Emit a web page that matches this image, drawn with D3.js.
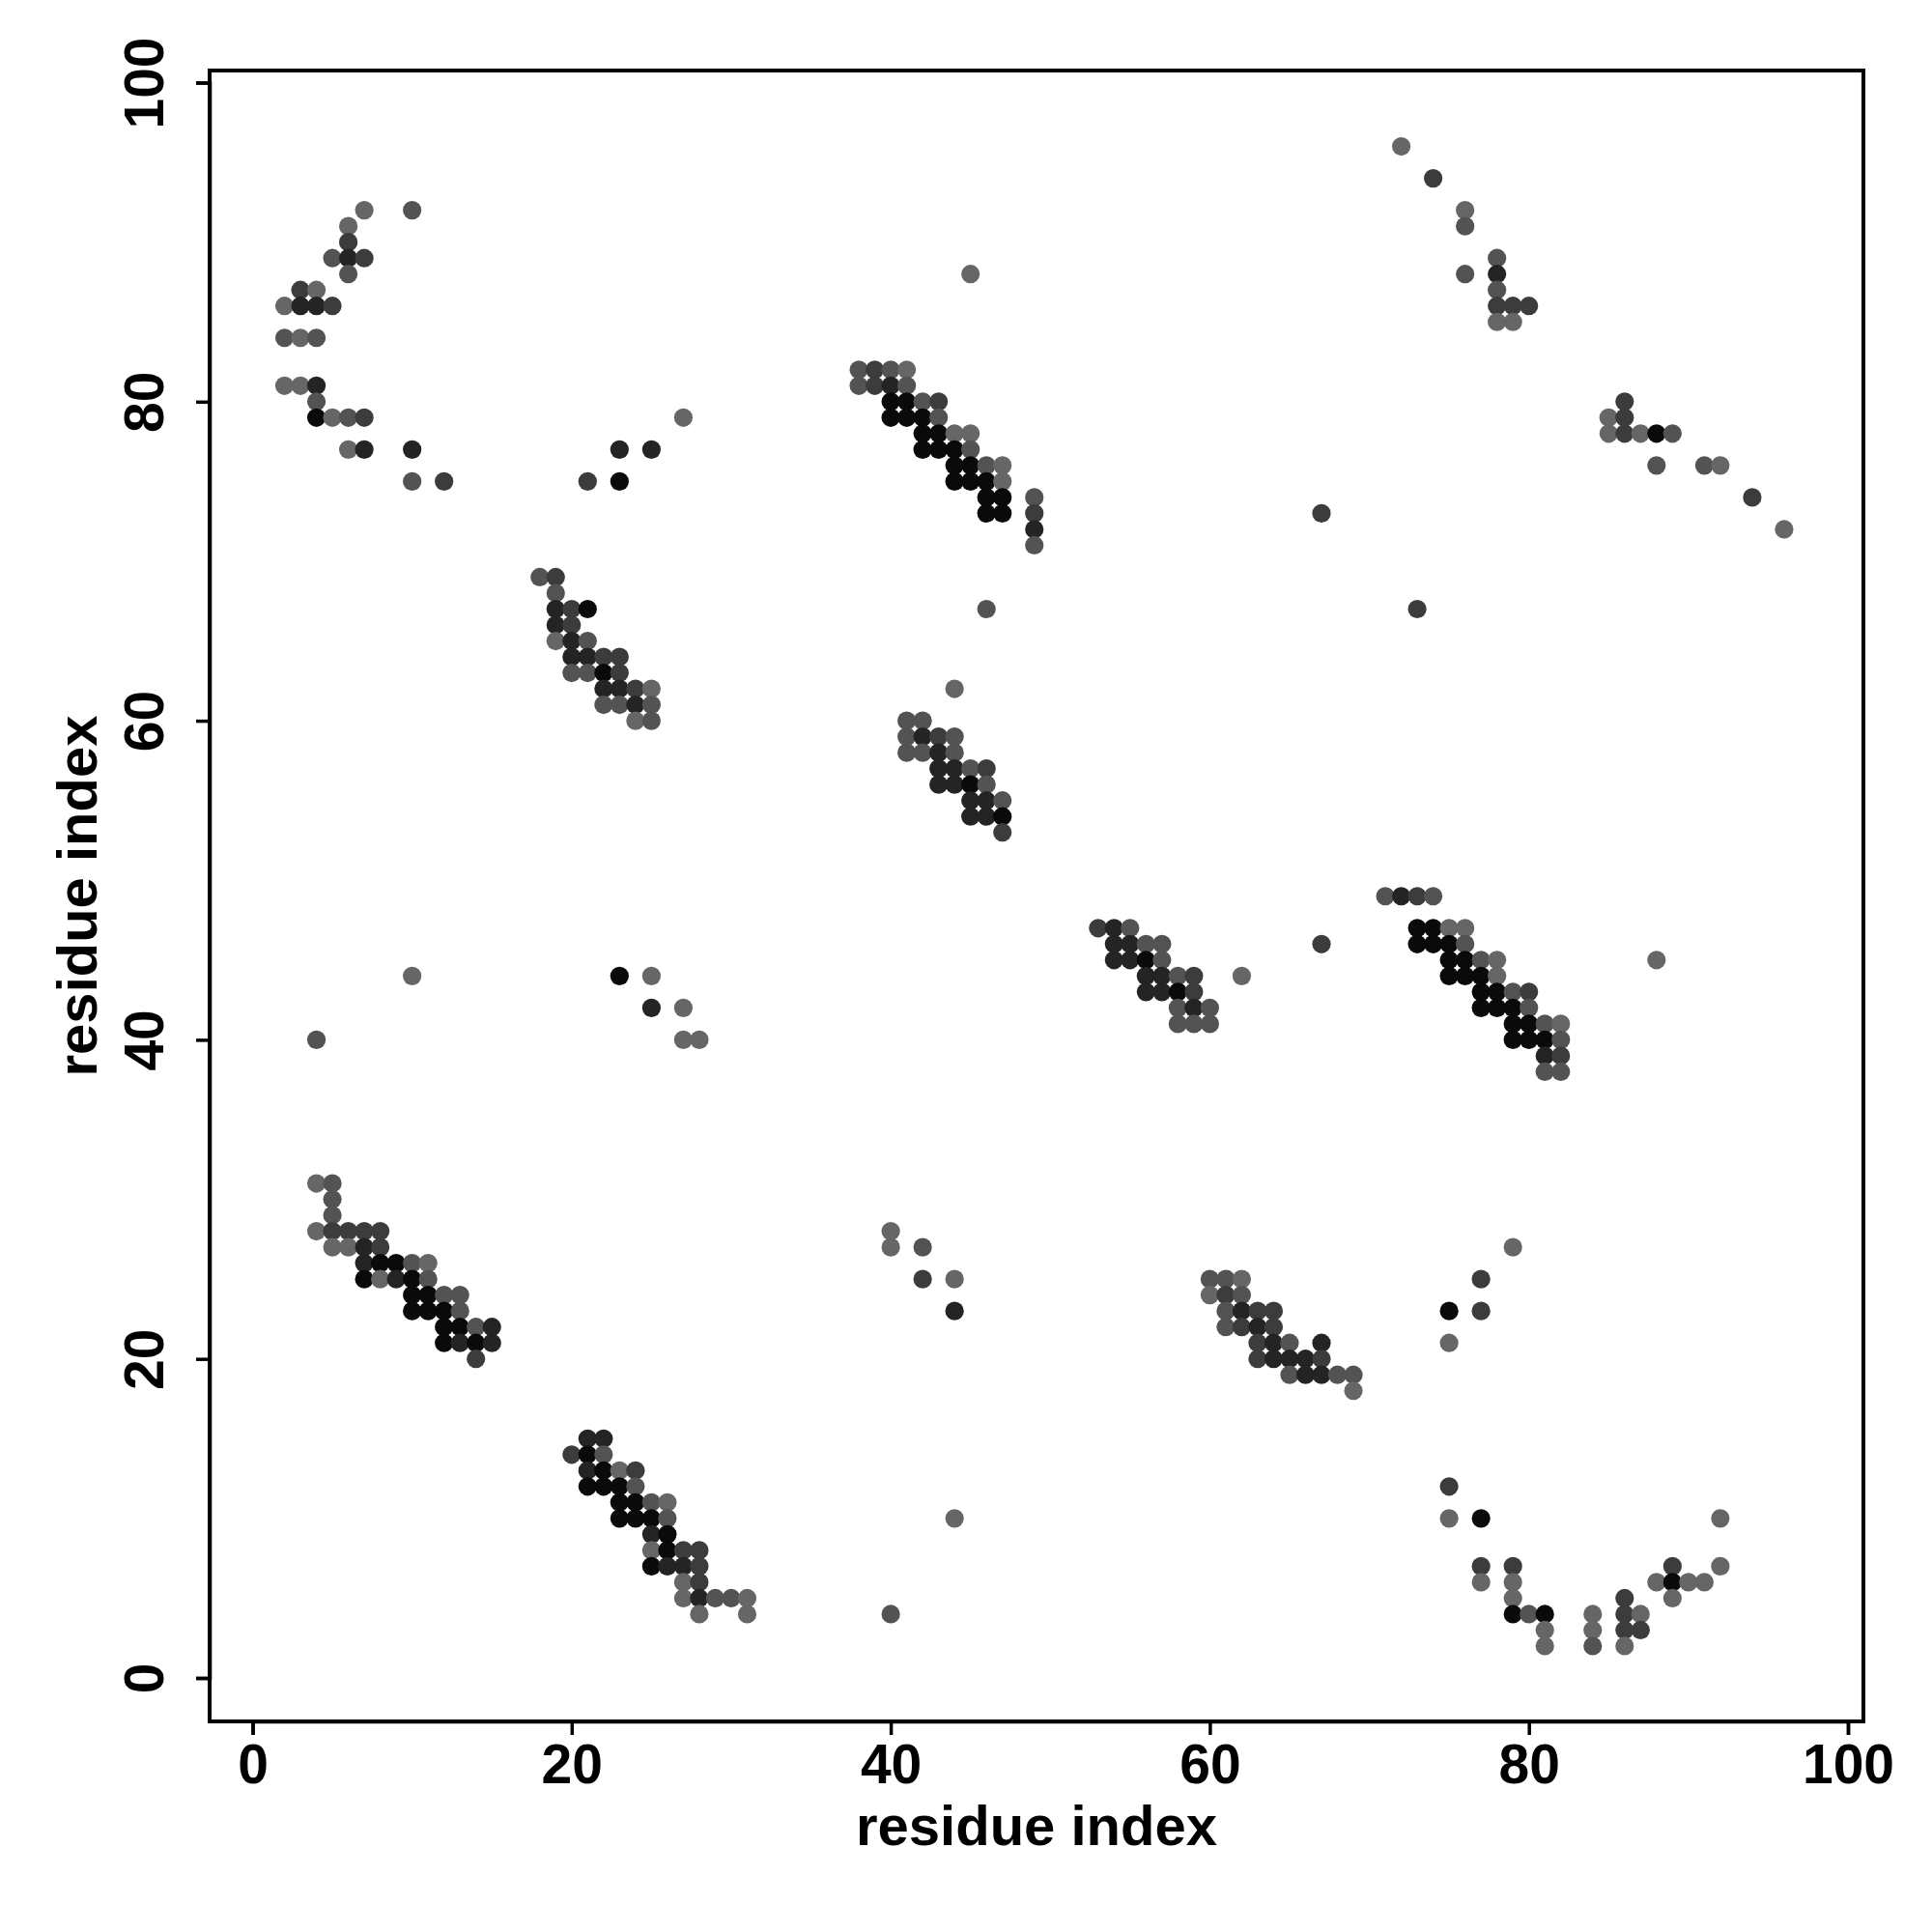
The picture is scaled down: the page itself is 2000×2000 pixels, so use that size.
<!DOCTYPE html>
<html>
<head>
<meta charset="utf-8">
<script src="https://cdn.jsdelivr.net/npm/d3@7"></script>
<style>
  body { margin: 0; background: #fff; }
  svg { display: block; }
</style>
</head>
<body>
<svg id="chart" width="2000" height="2000"></svg>
<script>
// contacts: [i, j, shade level 1 (light grey) .. 5 (black)]
const arcTopLeft = [[7,92,1],[10,92,2],[6,91,1],[6,90,3],[5,89,2],[6,89,4],[7,89,3],[6,88,2],[3,87,3],[4,87,1],
  [2,86,1],[3,86,4],[4,86,4],[5,86,3],[2,84,2],[3,84,1],[4,84,2],[2,81,1],[3,81,1],[4,81,4],[4,80,2],
  [4,79,5],[5,79,1],[6,79,2],[7,79,3],[6,77,1],[7,77,4],[10,77,4],[10,75,2],[12,75,3]];
const groupB = [[21,75,3],[23,75,5],[23,77,4],[25,77,4],[27,79,1]];
const diagC = [[45,88,1],[38,82,2],[39,82,3],[40,82,2],[41,82,1],[38,81,2],[39,81,3],[40,81,4],[41,81,2],
  [40,80,5],[41,80,5],[42,80,2],[43,80,3],[40,79,5],[41,79,5],[42,79,5],[43,79,2],[42,78,5],[43,78,5],
  [44,78,1],[45,78,1],[42,77,5],[43,77,5],[44,77,5],[45,77,2],[44,76,5],[45,76,5],[46,76,2],[47,76,1],
  [44,75,5],[45,75,5],[46,75,5],[47,75,1],[46,74,5],[47,74,5],[49,74,2],[46,73,5],[47,73,5],[49,73,3],
  [49,72,4],[49,71,2],[46,67,2]];
const groupD = [[72,96,1],[74,94,3],[76,92,1],[76,91,2],[78,89,2],[76,88,2],[78,88,4],[78,87,2],[78,86,3],
  [79,86,3],[80,86,3],[78,85,1],[79,85,1]];
const groupE = [[86,80,3],[85,79,1],[86,79,3],[85,78,1],[86,78,3],[87,78,1],[88,78,5],[89,78,2],[88,76,2],
  [91,76,2],[92,76,1],[94,74,3],[96,72,1]];
const strays = [[67,73,3],[73,67,3],[62,44,1],[67,46,3],[88,45,1],[40,4,2],[44,10,1]];
const diagF = [[18,69,2],[19,69,3],[19,68,2],[19,67,4],[20,67,3],[21,67,5],[19,66,4],[20,66,3],[19,65,1],
  [20,65,4],[21,65,2],[20,64,4],[21,64,4],[22,64,3],[23,64,3],[20,63,2],[21,63,2],[22,63,5],[23,63,3],
  [22,62,4],[23,62,4],[24,62,3],[25,62,1],[22,61,2],[23,61,2],[24,61,4],[25,61,2],[24,60,1],[25,60,2]];
const diagG = [[44,62,1],[41,60,2],[42,60,2],[41,59,2],[42,59,4],[43,59,3],[44,59,2],[41,58,2],[42,58,2],
  [43,58,4],[44,58,2],[43,57,4],[44,57,4],[45,57,2],[46,57,3],[43,56,4],[44,56,4],[45,56,5],[46,56,2],
  [45,55,4],[46,55,4],[47,55,2],[45,54,4],[46,54,4],[47,54,5],[47,53,3]];
const diagH = [[53,47,3],[54,47,4],[55,47,2],[54,46,4],[55,46,4],[56,46,2],[57,46,2],[54,45,4],[55,45,4],
  [56,45,5],[57,45,2],[56,44,4],[57,44,4],[58,44,2],[59,44,3],[56,43,4],[57,43,4],[58,43,5],[59,43,3],
  [58,42,2],[59,42,4],[60,42,2],[58,41,2],[59,41,2],[60,41,2]];
const diagI = [[71,49,2],[72,49,4],[73,49,3],[74,49,2],[73,47,5],[74,47,5],[75,47,1],[76,47,1],[73,46,5],
  [74,46,5],[75,46,5],[76,46,2],[75,45,5],[76,45,5],[77,45,2],[78,45,1],[75,44,5],[76,44,5],[77,44,5],
  [78,44,1],[77,43,5],[78,43,5],[79,43,2],[80,43,3],[77,42,5],[78,42,5],[79,42,5],[80,42,2],[79,41,5],
  [80,41,5],[81,41,2],[82,41,1],[79,40,5],[80,40,5],[81,40,5],[82,40,2],[81,39,4],[82,39,3],[81,38,2],[82,38,2]];
const groupJ = [[4,40,2],[10,44,1],[23,44,5],[25,44,1],[25,42,4],[27,42,1],[27,40,1],[28,40,1]];
const diagK = [[4,31,1],[5,31,2],[5,30,2],[5,29,2],[4,28,1],[5,28,3],[6,28,3],[7,28,3],[8,28,3],[5,27,1],
  [6,27,1],[7,27,4],[8,27,3],[7,26,4],[8,26,5],[9,26,5],[10,26,2],[11,26,1],[7,25,5],[8,25,1],[9,25,4],
  [10,25,5],[11,25,2],[10,24,5],[11,24,5],[12,24,2],[13,24,2],[10,23,5],[11,23,5],[12,23,5],[13,23,2],
  [12,22,5],[13,22,5],[14,22,2],[15,22,4],[12,21,5],[13,21,4],[14,21,5],[15,21,4],[14,20,3]];
const groupL = [[40,28,1],[40,27,1],[42,27,2],[42,25,3],[44,25,1],[44,23,4],[75,23,5],[75,21,1],[77,25,3],
  [77,23,3],[79,27,1]];
const diagM = [[60,25,2],[61,25,2],[62,25,1],[60,24,1],[61,24,3],[62,24,2],[61,23,2],[62,23,4],[63,23,3],
  [64,23,3],[61,22,2],[62,22,3],[63,22,4],[64,22,3],[63,21,3],[64,21,4],[65,21,2],[67,21,4],[63,20,3],
  [64,20,4],[65,20,4],[66,20,4],[67,20,3],[65,19,2],[66,19,4],[67,19,4],[68,19,2],[69,19,2],[69,18,1]];
const diagN = [[21,15,4],[22,15,4],[20,14,3],[21,14,5],[22,14,2],[21,13,4],[22,13,5],[23,13,1],[24,13,3],
  [21,12,5],[22,12,5],[23,12,5],[24,12,2],[23,11,5],[24,11,5],[25,11,2],[26,11,1],[23,10,5],[24,10,5],
  [25,10,5],[26,10,2],[25,9,4],[26,9,5],[25,8,1],[26,8,5],[27,8,3],[28,8,3],[25,7,5],[26,7,4],[27,7,4],
  [28,7,3],[27,6,1],[28,6,3],[27,5,1],[28,5,4],[29,5,2],[30,5,2],[31,5,1],[28,4,1],[31,4,1]];
const arcO = [[75,12,3],[75,10,1],[77,10,5],[77,7,3],[77,6,1],[79,7,3],[79,6,1],[79,5,1],[79,4,5],[80,4,2],
  [81,4,5],[81,3,1],[81,2,1],[84,4,1],[84,3,1],[84,2,2],[86,5,3],[86,4,3],[86,3,3],[86,2,1],[87,4,1],
  [87,3,3],[88,6,1],[89,7,3],[89,6,5],[89,5,1],[90,6,1],[91,6,1],[92,10,1],[92,7,1]];

const xTicks = [0, 20, 40, 60, 80, 100];
const yTicks = [0, 20, 40, 60, 80, 100];
const axisTitle = 'residue index';

const contacts = [].concat(arcTopLeft, groupB, diagC, groupD, groupE, strays, diagF, diagG, diagH,
  diagI, groupJ, diagK, groupL, diagM, diagN, arcO);

const box = {left: 217, right: 1929, top: 73, bottom: 1782};

const x = d3.scaleLinear().domain([0, 100]).range([261.5, 1913]);
const y = d3.scaleLinear().domain([0, 100]).range([1737, 85.5]);
const shade = d3.scaleOrdinal()
  .domain([1, 2, 3, 4, 5])
  .range(['#666666', '#535353', '#3c3c3c', '#242424', '#0a0a0a']);

const svg = d3.select('#chart');
const font = '"Liberation Sans", Arial, Helvetica, sans-serif';

svg.append('g')
  .selectAll('circle')
  .data(contacts)
  .join('circle')
  .attr('cx', d => x(d[0]))
  .attr('cy', d => y(d[1]))
  .attr('r', 9.6)
  .attr('fill', d => shade(d[2]));

svg.append('rect')
  .attr('x', box.left)
  .attr('y', box.top)
  .attr('width', box.right - box.left)
  .attr('height', box.bottom - box.top)
  .attr('fill', 'none')
  .attr('stroke', '#000')
  .attr('stroke-width', 4);

const xAxis = svg.append('g')
  .attr('transform', `translate(0,${box.bottom})`)
  .call(d3.axisBottom(x).tickValues(xTicks).tickSize(14).tickPadding(10).tickFormat(d3.format('d')));
xAxis.select('.domain').attr('stroke-width', 3.5);
xAxis.selectAll('.tick line').attr('stroke-width', 3.5);
xAxis.selectAll('text')
  .attr('font-family', font)
  .attr('font-weight', 'bold')
  .attr('font-size', 57)
  .attr('fill', '#000');

const yAxis = svg.append('g')
  .attr('transform', `translate(${box.left},0)`)
  .call(d3.axisLeft(y).tickValues(yTicks).tickSize(14).tickFormat(d3.format('d')));
yAxis.select('.domain').attr('stroke-width', 3.5);
yAxis.selectAll('.tick line').attr('stroke-width', 3.5);
yAxis.selectAll('text')
  .attr('font-family', font)
  .attr('font-weight', 'bold')
  .attr('font-size', 57)
  .attr('fill', '#000')
  .attr('x', null)
  .attr('dy', null)
  .attr('text-anchor', 'middle')
  .attr('transform', 'translate(-48,0) rotate(-90)');

svg.append('text')
  .attr('x', (box.left + box.right) / 2)
  .attr('y', 1910)
  .attr('text-anchor', 'middle')
  .attr('font-family', font)
  .attr('font-weight', 'bold')
  .attr('font-size', 58)
  .text(axisTitle);

svg.append('text')
  .attr('transform', `translate(100,${(box.top + box.bottom) / 2}) rotate(-90)`)
  .attr('text-anchor', 'middle')
  .attr('font-family', font)
  .attr('font-weight', 'bold')
  .attr('font-size', 58)
  .text(axisTitle);
</script>
</body>
</html>
